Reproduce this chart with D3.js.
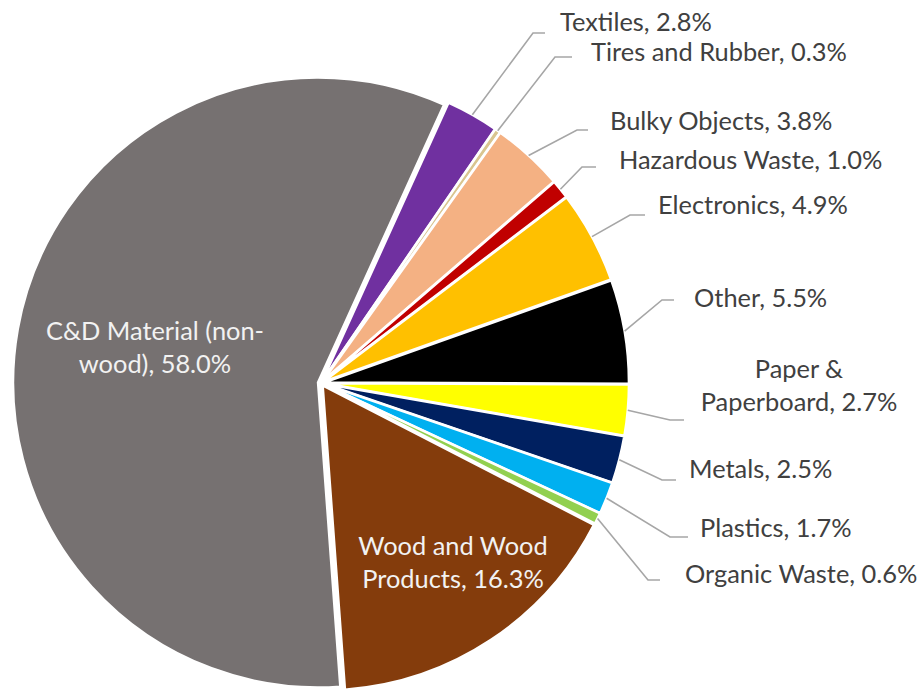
<!DOCTYPE html>
<html>
<head>
<meta charset="utf-8">
<script src="https://cdn.jsdelivr.net/npm/d3@7"></script>
<style>
  html, body { margin: 0; padding: 0; background: #ffffff; }
  svg { display: block; }
  text { font-family: Lato, "Open Sans", sans-serif; }
</style>
</head>
<body>
<svg id="chart" width="923" height="690"></svg>
<script>
// Waste composition by material category (percent of total)
const categories = [
  "Textiles", "Tires and Rubber", "Bulky Objects", "Hazardous Waste",
  "Electronics", "Other", "Paper & Paperboard", "Metals", "Plastics",
  "Organic Waste", "Wood and Wood Products", "C&D Material (non-wood)"
];
const shares = [2.8, 0.3, 3.8, 1.0, 4.9, 5.5, 2.7, 2.5, 1.7, 0.6, 16.3, 58.0];
const colors = [
  "#7030A0", "#D9C58F", "#F4B183", "#C00000", "#FFC000", "#000000",
  "#FFFF00", "#002060", "#00B0F0", "#92D050", "#843C0C", "#767171"
];

// Label text lines (value appended from the shares array)
const labelLines = [
  ["Textiles, {v}"], ["Tires and Rubber, {v}"], ["Bulky Objects, {v}"],
  ["Hazardous Waste, {v}"], ["Electronics, {v}"], ["Other, {v}"],
  ["Paper &", "Paperboard, {v}"], ["Metals, {v}"], ["Plastics, {v}"],
  ["Organic Waste, {v}"], ["Wood and Wood", "Products, {v}"],
  ["C&D Material (non-", "wood), {v}"]
];

// Placement of each label: leader elbow, leader tail, text anchor
const labelLayout = [
  { elbow: [533, 33],  tail: 545, tx: 560, ty: 31,  anchor: "start" },
  { elbow: [555, 57],  tail: 572, tx: 591, ty: 61,  anchor: "start" },
  { elbow: [577, 130], tail: 588, tx: 610, ty: 130, anchor: "start" },
  { elbow: [582, 167], tail: 596, tx: 619, ty: 169, anchor: "start" },
  { elbow: [630, 215], tail: 645, tx: 658, ty: 214, anchor: "start" },
  { elbow: [662, 300], tail: 674, tx: 694, ty: 307, anchor: "start" },
  { elbow: [670, 420], tail: 684, tx: 799, ty: 378, anchor: "middle" },
  { elbow: [662, 480], tail: 676, tx: 689, ty: 478, anchor: "start" },
  { elbow: [670, 537], tail: 688, tx: 700, ty: 537, anchor: "start" },
  { elbow: [648, 580], tail: 660, tx: 685, ty: 583, anchor: "start" },
  { inside: true, tx: 453, ty: 555, anchor: "middle" },
  { inside: true, tx: 155, ty: 340, anchor: "middle" }
];

const data = categories.map((c, i) => ({
  name: c, value: shares[i], color: colors[i],
  lines: labelLines[i].map(s => s.replace("{v}", shares[i].toFixed(1) + "%")),
  layout: labelLayout[i]
}));

const cx = 321, cy = 383, radius = 305, explode = 3;
const lineHeight = 33;

const svg = d3.select("#chart");
const g = svg.append("g").attr("transform", `translate(${cx},${cy})`);

const start = 24.4 * Math.PI / 180;
const pie = d3.pie().value(d => d.value).sort(null)
  .startAngle(start).endAngle(start + 2 * Math.PI);
const arc = d3.arc().innerRadius(0).outerRadius(radius);
const arcs = pie(data);

function offset(a) {
  const m = (a.startAngle + a.endAngle) / 2;
  return [Math.sin(m) * explode, -Math.cos(m) * explode];
}

// Slices, each pushed slightly out along its bisector
g.selectAll("path.slice").data(arcs).join("path")
  .attr("class", "slice")
  .attr("d", arc)
  .attr("transform", a => `translate(${offset(a)})`)
  .attr("fill", a => a.data.color)
  .attr("stroke", "#ffffff")
  .attr("stroke-width", 2.5)
  .attr("stroke-linejoin", "round");

// Leader lines for outside labels
const outside = arcs.filter(a => !a.data.layout.inside);
svg.selectAll("polyline.leader").data(outside).join("polyline")
  .attr("class", "leader")
  .attr("points", a => {
    const m = (a.startAngle + a.endAngle) / 2;
    const o = offset(a);
    const x0 = cx + o[0] + Math.sin(m) * radius;
    const y0 = cy + o[1] - Math.cos(m) * radius;
    const L = a.data.layout;
    return [[x0, y0], L.elbow, [L.tail, L.elbow[1]]].map(p => p.join(",")).join(" ");
  })
  .attr("fill", "none")
  .attr("stroke", "#A6A6A6")
  .attr("stroke-width", 1.6);

// Label text
svg.selectAll("text.label").data(arcs).join("text")
  .attr("class", "label")
  .attr("x", a => a.data.layout.tx)
  .attr("y", a => a.data.layout.ty)
  .attr("text-anchor", a => a.data.layout.anchor)
  .attr("font-size", 25.4)
  .attr("fill", a => a.data.layout.inside ? "#F2F2F2" : "#404040")
  .each(function (a) {
    const t = d3.select(this);
    a.data.lines.forEach((line, i) => {
      t.append("tspan")
        .attr("x", a.data.layout.tx)
        .attr("dy", i === 0 ? 0 : lineHeight)
        .text(line);
    });
  });
</script>
</body>
</html>
